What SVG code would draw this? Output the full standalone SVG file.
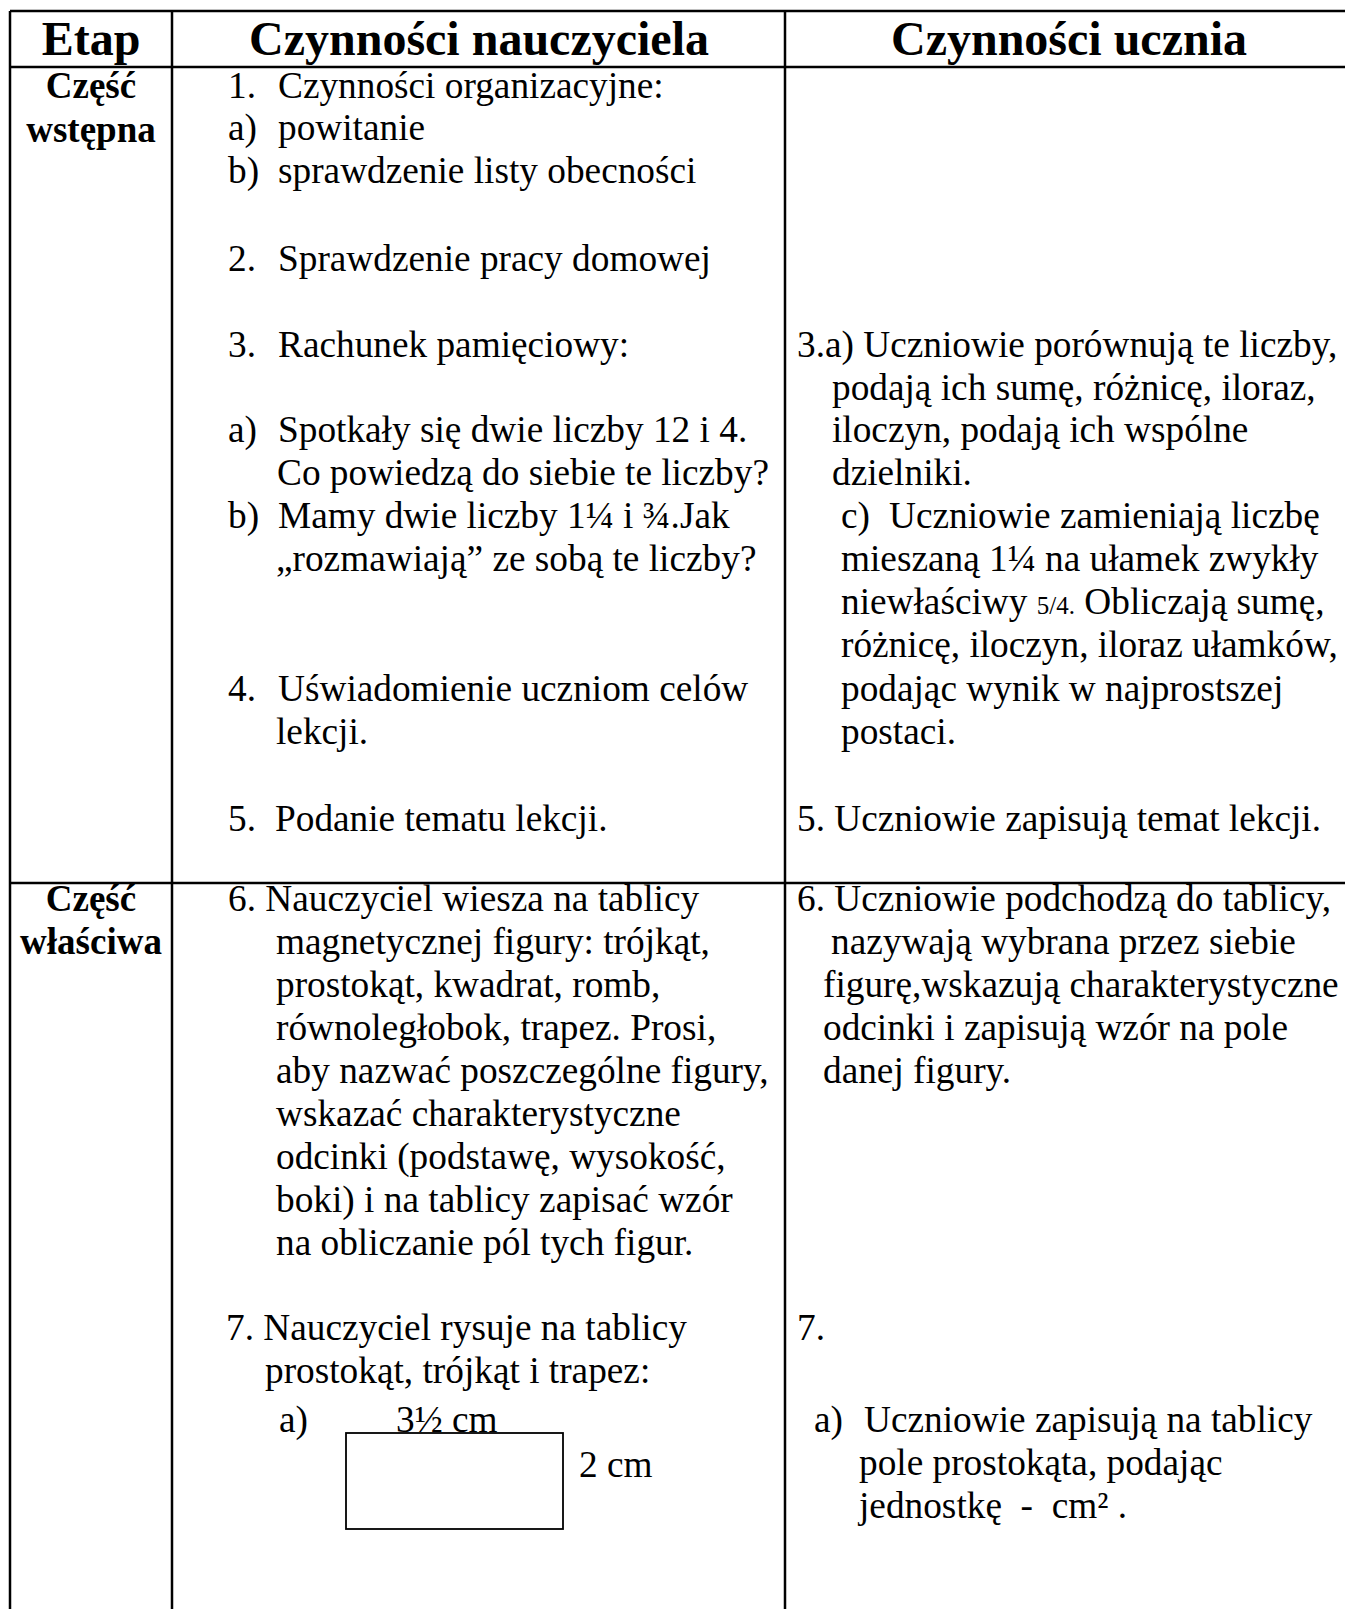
<svg xmlns="http://www.w3.org/2000/svg" width="1345" height="1609" viewBox="0 0 1345 1609">
<style>
.t{font-family:"Liberation Serif","Times New Roman",serif;font-size:37.3px;fill:#000}
.s{font-family:"Liberation Serif","Times New Roman",serif;font-size:25px;fill:#000}
.h{font-family:"Liberation Serif","Times New Roman",serif;font-size:48px;font-weight:bold;fill:#000}
.b{font-family:"Liberation Serif","Times New Roman",serif;font-size:37px;font-weight:bold;fill:#000}
.ln{stroke:#000;stroke-width:2.5;fill:none}
</style>
<rect width="1345" height="1609" fill="#fff"/>
<g id="grid">
<line class="ln" x1="10" y1="11" x2="1345" y2="11"/>
<line class="ln" x1="10" y1="67" x2="1345" y2="67"/>
<line class="ln" x1="10" y1="883" x2="1345" y2="883"/>
<line class="ln" x1="10" y1="11" x2="10" y2="1609"/>
<line class="ln" x1="172" y1="11" x2="172" y2="1609"/>
<line class="ln" x1="785" y1="11" x2="785" y2="1609"/>
</g>
<g id="header">
<text class="h" x="91" y="55" text-anchor="middle">Etap</text>
<text class="h" x="479" y="55" text-anchor="middle">Czynności nauczyciela</text>
<text class="h" x="1069" y="55" text-anchor="middle">Czynności ucznia</text>
</g>
<g id="etap1">
<text class="b" x="91" y="98" text-anchor="middle">Część</text>
<text class="b" x="91" y="142" text-anchor="middle">wstępna</text>
</g>
<g id="nauczyciel1">
<text class="t" x="228" y="98">1.</text><text class="t" x="278" y="98">Czynności organizacyjne:</text>
<text class="t" x="228" y="140">a)</text><text class="t" x="278" y="140">powitanie</text>
<text class="t" x="228" y="183">b)</text><text class="t" x="278" y="183">sprawdzenie listy obecności</text>
<text class="t" x="228" y="271">2.</text><text class="t" x="278" y="271">Sprawdzenie pracy domowej</text>
<text class="t" x="228" y="357">3.</text><text class="t" x="278" y="357">Rachunek pamięciowy:</text>
<text class="t" x="228" y="442">a)</text><text class="t" x="278" y="442">Spotkały się dwie liczby 12 i 4.</text>
<text class="t" x="277" y="485">Co powiedzą do siebie te liczby?</text>
<text class="t" x="228" y="528">b)</text><text class="t" x="278" y="528">Mamy dwie liczby 1¼ i ¾.Jak</text>
<text class="t" x="276" y="571">„rozmawiają” ze sobą te liczby?</text>
<text class="t" x="228" y="701">4.</text><text class="t" x="278" y="701">Uświadomienie uczniom celów</text>
<text class="t" x="276" y="744">lekcji.</text>
<text class="t" x="228" y="831">5.</text><text class="t" x="275" y="831">Podanie tematu lekcji.</text>
</g>
<g id="uczen1">
<text class="t" x="797" y="357">3.a) Uczniowie porównują te liczby,</text>
<text class="t" x="832" y="400">podają ich sumę, różnicę, iloraz,</text>
<text class="t" x="832" y="442">iloczyn, podają ich wspólne</text>
<text class="t" x="832" y="485">dzielniki.</text>
<text class="t" x="841" y="528">c)</text><text class="t" x="889" y="528">Uczniowie zamieniają liczbę</text>
<text class="t" x="841" y="571">mieszaną 1¼ na ułamek zwykły</text>
<text class="t" x="841" y="614">niewłaściwy <tspan class="s">5/4.</tspan> Obliczają sumę,</text>
<text class="t" x="841" y="657">różnicę, iloczyn, iloraz ułamków,</text>
<text class="t" x="841" y="701">podając wynik w najprostszej</text>
<text class="t" x="841" y="744">postaci.</text>
<text class="t" x="797" y="831">5. Uczniowie zapisują temat lekcji.</text>
</g>
<g id="etap2">
<text class="b" x="91" y="911" text-anchor="middle">Część</text>
<text class="b" x="91" y="954" text-anchor="middle">właściwa</text>
</g>
<g id="nauczyciel2">
<text class="t" x="228" y="911">6. Nauczyciel wiesza na tablicy</text>
<text class="t" x="276" y="954">magnetycznej figury: trójkąt,</text>
<text class="t" x="276" y="997">prostokąt, kwadrat, romb,</text>
<text class="t" x="276" y="1040">równoległobok, trapez. Prosi,</text>
<text class="t" x="276" y="1083">aby nazwać poszczególne figury,</text>
<text class="t" x="276" y="1126">wskazać charakterystyczne</text>
<text class="t" x="276" y="1169">odcinki (podstawę, wysokość,</text>
<text class="t" x="276" y="1212">boki) i na tablicy zapisać wzór</text>
<text class="t" x="276" y="1255">na obliczanie pól tych figur.</text>
<text class="t" x="226" y="1340">7. Nauczyciel rysuje na tablicy</text>
<text class="t" x="265" y="1383">prostokąt, trójkąt i trapez:</text>
<text class="t" x="279" y="1432">a)</text>
<text class="t" x="396" y="1432">3½ cm</text>
<rect x="346" y="1433" width="217" height="96" fill="none" stroke="#000" stroke-width="1.8"/>
<text class="t" x="579" y="1477">2 cm</text>
</g>
<g id="uczen2">
<text class="t" x="797" y="911">6. Uczniowie podchodzą do tablicy,</text>
<text class="t" x="831" y="954">nazywają wybrana przez siebie</text>
<text class="t" x="823" y="997">figurę,wskazują charakterystyczne</text>
<text class="t" x="823" y="1040">odcinki i zapisują wzór na pole</text>
<text class="t" x="823" y="1083">danej figury.</text>
<text class="t" x="797" y="1340">7.</text>
<text class="t" x="814" y="1432">a)</text><text class="t" x="864" y="1432">Uczniowie zapisują na tablicy</text>
<text class="t" x="859" y="1475">pole prostokąta, podając</text>
<text class="t" x="859" y="1518" xml:space="preserve">jednostkę  -  cm² .</text>
</g>
</svg>
